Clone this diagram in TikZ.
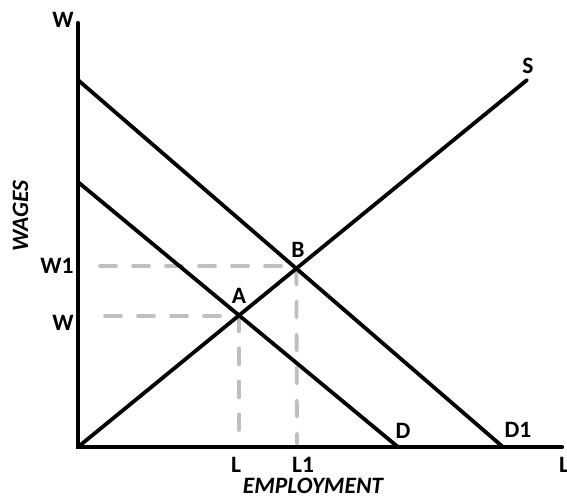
\documentclass[tikz,border=0pt]{standalone}
\usepackage{fontspec}
\setmainfont{Carlito}
\usetikzlibrary{intersections}
\begin{document}
\begin{tikzpicture}[x=1pt,y=-1pt,
  axis/.style={line width=4.2pt,line cap=round},
  curve/.style={line width=3.8pt,line cap=round},
  guide/.style={line width=3.8pt,line cap=round,color=black!25,dash pattern=on 16pt off 17pt},
  lbl/.style={anchor=base,inner sep=0pt,font=\fontsize{23.5}{28}\selectfont\bfseries},
  ilbl/.style={lbl,font=\fontsize{23.5}{28}\selectfont\bfseries\itshape}]
\useasboundingbox (0,0) rectangle (567,499);
\fill[white] (0,0) rectangle (567,499);
\coordinate (O) at (78,447);
\coordinate (ytop) at (78,23);
\coordinate (xend) at (562,447);
\coordinate (Dtop) at (78,182);
\coordinate (Dbot) at (398,447);
\coordinate (D1top) at (78,80);
\coordinate (D1bot) at (503,447);
\coordinate (Send) at (527,80);
\path[name path=Sline] (O) -- (Send);
\path[name path=Dline] (Dtop) -- (Dbot);
\path[name path=D1line] (D1top) -- (D1bot);
\path[name intersections={of=Sline and Dline,by=A}];
\path[name intersections={of=Sline and D1line,by=B}];
\coordinate (w1s) at (100,266);
\coordinate (ws) at (105,316);
\coordinate (Lend) at (240,430);
\coordinate (L1end) at (297,444);
% guides
\draw[guide] (w1s) -- (w1s -| B);
\draw[guide] (ws) -- (ws -| A);
\draw[guide] (B) -- (L1end);
\draw[guide] (A) -- (A |- Lend);
% curves
\draw[curve] (Dtop) -- (Dbot);
\draw[curve] (D1top) -- (D1bot);
\draw[curve] (O) -- (Send);
% axes
\draw[axis] (ytop) -- (O) -- (xend);
% labels
\node[lbl] (tW) at (63,27) {W};
\node[ilbl,rotate=90] (tWAGES) at (28,216) {WAGES};
\node[lbl] (tW1) at (57,273) {W1};
\node[lbl] (tWw) at (63,330) {W};
\node[lbl] (tA) at (239,303) {A};
\node[lbl] (tB) at (298,257) {B};
\node[lbl] (tS) at (528,73) {S};
\node[lbl] (tD) at (403,438) {D};
\node[lbl] (tD1) at (518,437) {D1};
\node[lbl] (tL) at (236,472) {L};
\node[lbl] (tL1) at (303,472) {L1};
\node[lbl,anchor=base west] (tLr) at (559,472) {L};
\node[ilbl] (tEMP) at (313,493.5) {EMPLOYMENT};
\end{tikzpicture}
\end{document}
